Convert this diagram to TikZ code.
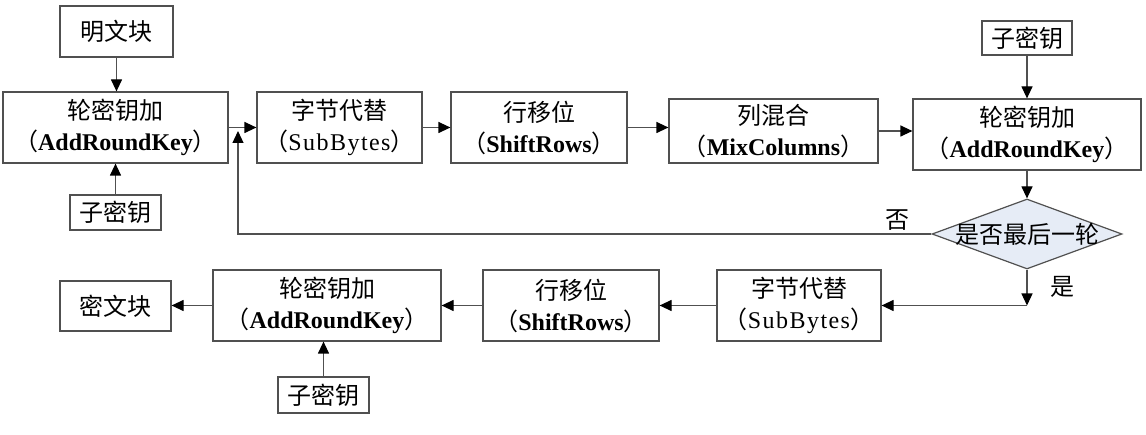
\documentclass[tikz,border=0pt]{standalone}
\usepackage{fontspec}
\setmainfont{Liberation Serif}
\newfontfamily\cjk{Noto Sans CJK SC}
\newfontfamily\sunlatin[LetterSpace=6]{Liberation Serif}
\usetikzlibrary{arrows.meta,shapes.geometric}
\definecolor{linegray}{RGB}{80,80,80}
\definecolor{diafill}{RGB}{230,236,246}
\newcommand{\zh}[1]{{\cjk\fontsize{24}{31}\selectfont #1}}
\tikzset{
  box/.style={draw=linegray, line width=1.2pt, rectangle, inner sep=0pt, align=center,
    font=\fontsize{24}{31}\selectfont},
  arr/.style={draw=linegray, line width=1.2pt, -{Triangle[length=12pt,width=11pt,fill=black,color=black]}},
  lbl/.style={inner sep=0pt, font=\fontsize{23}{26}\selectfont},
}
\begin{document}
\begin{tikzpicture}[x=1pt,y=-1pt]
\useasboundingbox (0,0) rectangle (1146,435);
% top row
\node[box, minimum width=113pt, minimum height=51pt] (pt) at (116.5,31.5) {\zh{明文块}};
\node[box, minimum width=225pt, minimum height=71pt] (ark1) at (115.5,127.5) {\zh{轮密钥加}\\\zh{（}\textbf{AddRoundKey}\zh{）}};
\node[box, minimum width=91pt, minimum height=35pt] (k1) at (115.5,212.5) {\zh{子密钥}};
\node[box, minimum width=165pt, minimum height=71pt] (sb1) at (339.5,127.5) {\zh{字节代替}\\\zh{（}{\sunlatin SubBytes}\zh{）}};
\node[box, minimum width=176pt, minimum height=71pt] (sr1) at (539,127.5) {\zh{行移位}\\\zh{（}\textbf{ShiftRows}\zh{）}};
\node[box, minimum width=209pt, minimum height=64pt] (mc) at (773.5,131) {\zh{列混合}\\\zh{（}\textbf{MixColumns}\zh{）}};
\node[box, minimum width=90pt, minimum height=34pt] (k2) at (1027,38) {\zh{子密钥}};
\node[box, minimum width=228pt, minimum height=71pt] (ark2) at (1027,134.5) {\zh{轮密钥加}\\\zh{（}\textbf{AddRoundKey}\zh{）}};
\node[draw=linegray, line width=1.2pt, fill=diafill, shape=diamond, aspect=2.71, inner sep=0pt,
  minimum width=190pt, minimum height=70pt] (dia) at (1027,234) {\makebox[0pt]{\zh{是否最后一轮}}};
\node[lbl] (no) at (897,220) {\zh{否}};
\node[lbl] (yes) at (1062,287) {\zh{是}};
% bottom row
\node[box, minimum width=164pt, minimum height=71pt] (sb2) at (799,305.5) {\zh{字节代替}\\\zh{（}{\sunlatin SubBytes}\zh{）}};
\node[box, minimum width=176pt, minimum height=71pt] (sr2) at (571,305.5) {\zh{行移位}\\\zh{（}\textbf{ShiftRows}\zh{）}};
\node[box, minimum width=228pt, minimum height=71pt] (ark3) at (327,305.5) {\zh{轮密钥加}\\\zh{（}\textbf{AddRoundKey}\zh{）}};
\node[box, minimum width=111pt, minimum height=50pt] (ct) at (115.5,306) {\zh{密文块}};
\node[box, minimum width=91pt, minimum height=36pt] (k3) at (323.5,395) {\zh{子密钥}};
% coordinates
\coordinate (loopend) at (238,131);
\coordinate (turn) at (1027,305.5);
% connectors
\draw[arr] (pt.south) -- (pt.south |- ark1.north);
\draw[arr] (k1.north) -- (k1.north |- ark1.south);
\draw[arr] (ark1.east) -- (sb1.west);
\draw[arr] (sb1.east) -- (sr1.west);
\draw[arr] (sr1.east) -- (sr1.east -| mc.west);
\draw[arr] (mc.east) -- (mc.east -| ark2.west);
\draw[arr] (k2.south) -- (ark2.north);
\draw[arr] (ark2.south) -- (dia.north);
\draw[arr] (dia.west) -| (loopend);
\draw[arr] (dia.south) -- (turn);
\draw[arr] (turn) -- (sb2.east);
\draw[arr] (sb2.west) -- (sr2.east);
\draw[arr] (sr2.west) -- (ark3.east);
\draw[arr] (ark3.west) -- (ct.east |- ark3.west);
\draw[arr] (k3.north) -- (k3.north |- ark3.south);
\end{tikzpicture}
\end{document}
